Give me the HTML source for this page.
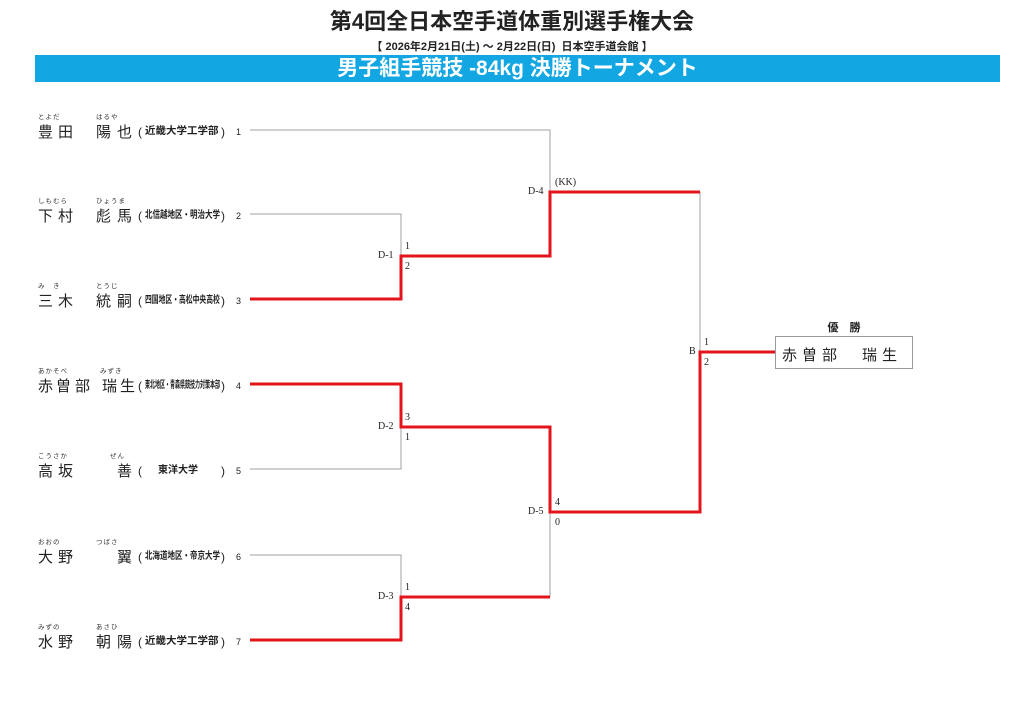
<!DOCTYPE html>
<html><head><meta charset="utf-8"><style>
body{margin:0;width:1024px;height:724px;background:#fff;position:relative;overflow:hidden;font-family:"Liberation Sans","Noto Sans CJK JP",sans-serif;color:#222}
.a{position:absolute;white-space:nowrap}
.k{position:absolute;font-size:15px;line-height:15px}
.f{position:absolute;font-size:6.5px;line-height:7px;color:#333;letter-spacing:1px}
.p{position:absolute;font-size:12px;line-height:12px}
.af{position:absolute;font-size:10px;line-height:10px;font-weight:bold;transform-origin:0 50%}
.num{position:absolute;font-size:9px;font-family:"Liberation Sans",sans-serif}
.lb{font-size:10px;font-family:"Liberation Serif",serif;line-height:10px}
</style></head><body>
<div class="a" style="left:0;width:1024px;top:9px;text-align:center;font-size:22px;font-weight:bold;line-height:26px">第4回全日本空手道体重別選手権大会</div>
<div class="a" style="left:0;width:1024px;top:38px;text-align:center;font-size:11px;font-weight:bold">【 2026年2月21日(土) ～ 2月22日(日)&nbsp; 日本空手道会館 】</div>
<div class="a" style="left:35px;width:965px;top:55px;height:27px;background:#12a6e2;color:#fff;text-align:center;font-size:21px;font-weight:bold;line-height:27px">男子組手競技 -84kg 決勝トーナメント</div>

<svg class="a" style="left:0;top:0" width="1024" height="724">
<g stroke="#a0a0a0" stroke-width="1" fill="none">
<path d="M250 130H550V192"/>
<path d="M250 214H401V256"/>
<path d="M250 469H401V427"/>
<path d="M250 555H401V597"/>
<path d="M550 512V597"/>
<path d="M700 192V352"/>
</g>
<g stroke="#e3141b" stroke-width="3" fill="none">
<path d="M250 299H401V256H550V192H700"/>
<path d="M250 384H401V427H550V512H700V352H775"/>
<path d="M250 640H401V597H550"/>
</g>
<rect x="775.5" y="336.5" width="137" height="32" fill="none" stroke="#999"/>
</svg>

<div class="a lb" style="left:378px;top:251px">D-1</div>
<div class="a lb" style="left:405px;top:242px">1</div>
<div class="a lb" style="left:405px;top:262px">2</div>
<div class="a lb" style="left:378px;top:422px">D-2</div>
<div class="a lb" style="left:405px;top:413px">3</div>
<div class="a lb" style="left:405px;top:433px">1</div>
<div class="a lb" style="left:378px;top:592px">D-3</div>
<div class="a lb" style="left:405px;top:583px">1</div>
<div class="a lb" style="left:405px;top:603px">4</div>
<div class="a lb" style="left:528px;top:187px">D-4</div>
<div class="a lb" style="left:555px;top:178px">(KK)</div>
<div class="a lb" style="left:528px;top:507px">D-5</div>
<div class="a lb" style="left:555px;top:498px">4</div>
<div class="a lb" style="left:555px;top:518px">0</div>
<div class="a lb" style="left:689px;top:347px">B</div>
<div class="a lb" style="left:704px;top:338px">1</div>
<div class="a lb" style="left:704px;top:358px">2</div>
<div class="a" style="left:775px;width:138px;top:319px;text-align:center;font-size:11px;font-weight:bold">優　勝</div>
<div class="a" style="left:782px;top:344px;font-size:15px;letter-spacing:5px">赤曽部　瑞生</div>

<!-- row 1 y=130 -->
<div class="a" style="left:0;top:125px">
<span class="f" style="left:38px;top:-11px">とよだ</span><span class="f" style="left:96px;top:-11px">はるや</span>
<span class="k" style="left:38px">豊</span><span class="k" style="left:58px">田</span><span class="k" style="left:96px">陽</span><span class="k" style="left:117px">也</span>
<span class="p" style="left:138px;top:1px">(</span><span class="af" style="left:145px;top:2px;transform:scaleX(1.05)">近畿大学工学部</span><span class="p" style="left:221px;top:1px">)</span><span class="num" style="left:236px;top:2px">1</span></div>

<div class="a" style="left:0;top:209px">
<span class="f" style="left:38px;top:-11px">しもむら</span><span class="f" style="left:96px;top:-11px">ひょうま</span>
<span class="k" style="left:38px">下</span><span class="k" style="left:58px">村</span><span class="k" style="left:96px">彪</span><span class="k" style="left:117px">馬</span>
<span class="p" style="left:138px;top:1px">(</span><span class="af" style="left:145px;top:2px;transform:scaleX(0.75)">北信越地区・明治大学</span><span class="p" style="left:221px;top:1px">)</span><span class="num" style="left:236px;top:2px">2</span></div>

<div class="a" style="left:0;top:294px">
<span class="f" style="left:38px;top:-11px">み　き</span><span class="f" style="left:96px;top:-11px">とうじ</span>
<span class="k" style="left:38px">三</span><span class="k" style="left:58px">木</span><span class="k" style="left:96px">統</span><span class="k" style="left:117px">嗣</span>
<span class="p" style="left:138px;top:1px">(</span><span class="af" style="left:145px;top:2px;transform:scaleX(0.68)">四国地区・高松中央高校</span><span class="p" style="left:221px;top:1px">)</span><span class="num" style="left:236px;top:2px">3</span></div>

<div class="a" style="left:0;top:379px">
<span class="f" style="left:38px;top:-11px">あかそべ</span><span class="f" style="left:100px;top:-11px">みずき</span>
<span class="k" style="left:38px">赤</span><span class="k" style="left:56px">曽</span><span class="k" style="left:75px">部</span><span class="k" style="left:102px">瑞</span><span class="k" style="left:120px">生</span>
<span class="p" style="left:138px;top:1px">(</span><span class="af" style="left:145px;top:2px;transform:scaleX(0.5)">東北地区・青森県競技力対策本部</span><span class="p" style="left:221px;top:1px">)</span><span class="num" style="left:236px;top:2px">4</span></div>

<div class="a" style="left:0;top:464px">
<span class="f" style="left:38px;top:-11px">こうさか</span><span class="f" style="left:110px;top:-11px">ぜん</span>
<span class="k" style="left:38px">高</span><span class="k" style="left:58px">坂</span><span class="k" style="left:117px">善</span>
<span class="p" style="left:138px;top:1px">(</span><span class="af" style="left:158px;top:2px">東洋大学</span><span class="p" style="left:221px;top:1px">)</span><span class="num" style="left:236px;top:2px">5</span></div>

<div class="a" style="left:0;top:550px">
<span class="f" style="left:38px;top:-11px">おおの</span><span class="f" style="left:96px;top:-11px">つばさ</span>
<span class="k" style="left:38px">大</span><span class="k" style="left:58px">野</span><span class="k" style="left:117px">翼</span>
<span class="p" style="left:138px;top:1px">(</span><span class="af" style="left:145px;top:2px;transform:scaleX(0.75)">北海道地区・帝京大学</span><span class="p" style="left:221px;top:1px">)</span><span class="num" style="left:236px;top:2px">6</span></div>

<div class="a" style="left:0;top:635px">
<span class="f" style="left:38px;top:-11px">みずの</span><span class="f" style="left:96px;top:-11px">あさひ</span>
<span class="k" style="left:38px">水</span><span class="k" style="left:58px">野</span><span class="k" style="left:96px">朝</span><span class="k" style="left:117px">陽</span>
<span class="p" style="left:138px;top:1px">(</span><span class="af" style="left:145px;top:2px;transform:scaleX(1.05)">近畿大学工学部</span><span class="p" style="left:221px;top:1px">)</span><span class="num" style="left:236px;top:2px">7</span></div>
</body></html>
